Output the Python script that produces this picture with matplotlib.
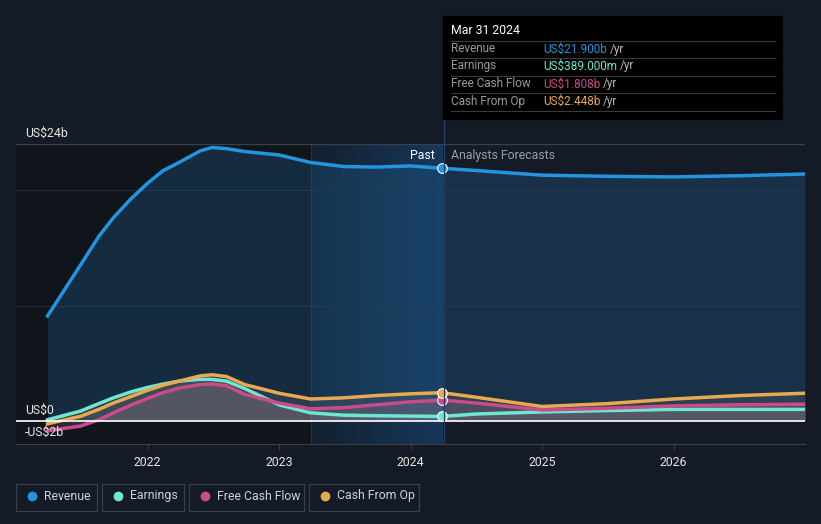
import numpy as np
import matplotlib.pyplot as plt
from matplotlib.patches import Rectangle
from matplotlib.lines import Line2D

plt.rcParams['font.family'] = ['Roboto', 'DejaVu Sans']

# data (US$ billions), x in decimal years
years = [2021.24, 2021.49, 2021.63, 2021.74, 2021.87, 2022.0, 2022.12, 2022.24, 2022.4, 2022.49, 2022.6, 2022.74,
         2023.0, 2023.24, 2023.49, 2023.74, 2024.0, 2024.24,
         2024.5, 2025.0, 2025.5, 2026.0, 2026.5, 2027.0]
revenue = [9.1, 13.5, 16.0, 17.6, 19.2, 20.6, 21.7, 22.4, 23.4, 23.7, 23.6, 23.35,
           23.05, 22.4, 22.05, 22.0, 22.1, 21.9,
           21.7, 21.3, 21.2, 21.15, 21.25, 21.4]
earnings = [0.1, 0.85, 1.5, 2.0, 2.5, 2.9, 3.2, 3.45, 3.6, 3.6, 3.45, 2.8,
            1.4, 0.7, 0.5, 0.45, 0.42, 0.389,
            0.6, 0.78, 0.9, 1.0, 1.0, 1.0]
fcf = [-0.85, -0.45, 0.1, 0.7, 1.35, 1.95, 2.45, 2.85, 3.15, 3.2, 3.05, 2.3,
       1.55, 1.05, 1.15, 1.4, 1.65, 1.808,
       1.55, 0.95, 1.1, 1.3, 1.4, 1.45]
cfo = [-0.25, 0.4, 1.0, 1.55, 2.1, 2.65, 3.1, 3.45, 3.9, 4.0, 3.85, 3.15,
       2.4, 1.9, 2.0, 2.2, 2.35, 2.448,
       2.05, 1.25, 1.5, 1.9, 2.2, 2.4]
now = 2024.24
last_year = 2023.24
tick_years = [2022, 2023, 2024, 2025, 2026]

c_rev = '#2394df'
c_earn = '#6ee6d0'
c_fcf = '#c94b8a'
c_cfo = '#e9a94f'
bg = '#151b26'

W, H = 821, 524
fig = plt.figure(figsize=(W / 100, H / 100), dpi=100, facecolor=bg)


def fx(px):
    return px / W


def fy(py):
    return 1 - py / H


ax = fig.add_axes([fx(16), fy(444), fx(805 - 16), fy(144) - fy(444)])
ax.set_facecolor(bg)
ax.set_xlim(2021.0, 2027.0)
ax.set_ylim(-2, 24)

# background regions
ax.axvspan(2021.0, last_year, color='#10141b', zorder=0)
grad = np.linspace(0, 1, 256).reshape(1, -1)
cmap = plt.matplotlib.colors.LinearSegmentedColormap.from_list('h', ['#13202f', '#17375a'])
ax.imshow(grad, extent=[last_year, now, -2, 24], aspect='auto', cmap=cmap,
          zorder=0.5, interpolation='bicubic')
ax.axvline(last_year, color='#1e3550', lw=0.8, zorder=1)

# grid
for g in [10, 20]:
    ax.axhline(g, color='#222b38', lw=0.8, zorder=1)
ax.axhline(24, color='#3a404a', lw=1, zorder=1)

x = np.array(years)
ax.fill_between(x, revenue, 0, color='#1f5a88', alpha=0.35, lw=0, zorder=2)
for s, c in [(cfo, c_cfo), (earnings, c_earn), (fcf, c_fcf)]:
    ax.fill_between(x, s, 0, color='#8a8a8a' if c != c_fcf else '#c98a9a', alpha=0.18, lw=0, zorder=2.2)

ax.plot(x, revenue, color=c_rev, lw=2.5, zorder=4, solid_joinstyle='round')
ax.plot(x, earnings, color=c_earn, lw=2.5, zorder=4, solid_joinstyle='round')
ax.plot(x, fcf, color=c_fcf, lw=2.5, zorder=4, solid_joinstyle='round')
ax.plot(x, cfo, color=c_cfo, lw=2.5, zorder=4, solid_joinstyle='round')

idx = years.index(now)
for s, c in [(revenue, c_rev), (earnings, c_earn), (fcf, c_fcf), (cfo, c_cfo)]:
    ax.plot([now], [s[idx]], 'o', ms=7, mfc=c, mec='white', mew=0.8, zorder=6)

ax.axhline(0, color='white', lw=1.2, zorder=5)

for sp in ['top', 'right', 'left']:
    ax.spines[sp].set_visible(False)
ax.spines['bottom'].set_color('#3a404a')
ax.set_yticks([])
ax.set_xticks(tick_years)
ax.set_xticklabels([str(t) for t in tick_years])
ax.tick_params(axis='x', colors='#3a404a', labelcolor='#e6e6e6', labelsize=8.8, length=4, pad=5)

# y labels
fig.text(fx(25), fy(133), 'US$24b', color='#e6e6e6', fontsize=8.8, va='center')
fig.text(fx(25), fy(410), 'US$0', color='#e6e6e6', fontsize=8.8, va='center')
fig.text(fx(25), fy(432), '-US$2b', color='#e6e6e6', fontsize=8.8, va='center')

# past / forecast labels
fig.text(fx(435), fy(156), 'Past', color='#ffffff', fontsize=8.8, ha='right', va='center')
fig.text(fx(451), fy(156), 'Analysts Forecasts', color='#9aa0a8', fontsize=8.8, ha='left', va='center')

# vertical now line
fig.add_artist(Line2D([fx(443.5), fx(443.5)], [fy(119), fy(444)], color='#25405c', lw=0.9))

# tooltip
fig.add_artist(Rectangle((fx(443), fy(119)), fx(782 - 443), fy(16) - fy(119), color='#000000', zorder=10))
fig.text(fx(451), fy(31), 'Mar 31 2024', color='white', fontsize=8.8, va='center', zorder=11)
rows = [('Revenue', 'US$21.900b', c_rev),
        ('Earnings', 'US$389.000m', c_earn),
        ('Free Cash Flow', 'US$1.808b', c_fcf),
        ('Cash From Op', 'US$2.448b', c_cfo)]
row_y = [49, 66, 84, 101]
for py in [41, 58, 76, 93, 111]:
    fig.add_artist(Line2D([fx(451), fx(775)], [fy(py), fy(py)], color='#3a3a3a', lw=0.8, zorder=11))
renderer = fig.canvas.get_renderer()
for (lab, val, c), py in zip(rows, row_y):
    fig.text(fx(451), fy(py), lab, color='#9a9a9a', fontsize=8.5, va='center', zorder=11)
    t = fig.text(fx(543), fy(py), val, color=c, fontsize=8.5, va='center', zorder=11)
    bb = t.get_window_extent(renderer)
    fig.text(bb.x1 / W + fx(3), fy(py), '/yr', color='#bbbbbb', fontsize=8.5, va='center', zorder=11)

# legend
items = [('Revenue', c_rev, 16, 97), ('Earnings', c_earn, 102, 184),
         ('Free Cash Flow', c_fcf, 189, 304), ('Cash From Op', c_cfo, 309, 419)]
for lab, c, x0, x1 in items:
    fig.add_artist(Rectangle((fx(x0), fy(511)), fx(x1 - x0), fy(484) - fy(511), fc='none',
                             ec='#3a404a', lw=0.9))
    fig.add_artist(Line2D([fx(x0 + 16)], [fy(496)], marker='o', ms=6, color=c, mec=c))
    fig.text(fx(x0 + 28), fy(496), lab, color='#cfd3d8', fontsize=8.8, va='center')

fig.savefig('out.png', dpi=100, facecolor=bg)
